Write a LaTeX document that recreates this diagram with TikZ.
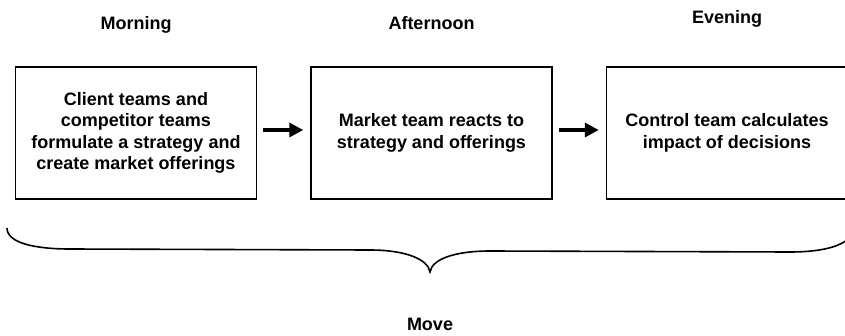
\documentclass[tikz,border=0pt]{standalone}
\usepackage{fontspec}
\setmainfont{Liberation Sans}
\usetikzlibrary{positioning,arrows.meta}

\begin{document}
\begin{tikzpicture}[x=1pt,y=1pt,font={\bfseries\fontsize{18}{21.5}\selectfont},
  phase/.style={draw,line width=1.5pt,minimum width=241pt,minimum height=132pt,inner sep=0,align=center},
  flow/.style={line width=4pt,-{Triangle[length=14pt,width=14pt]}}]
\useasboundingbox (0,0) rectangle (845,335);
% the three parts of a move
\node [phase] (morning) at (136,202) {Client teams and\\competitor teams\\formulate a strategy and\\create market offerings};
\node [phase,right=53pt of morning] (afternoon) {Market team reacts to\\strategy and offerings};
\node [phase,right=53pt of afternoon] (evening) {Control team calculates\\impact of decisions};
\node [above=37pt of morning,anchor=base] (morning label) {Morning};
\node [above=37pt of afternoon,anchor=base] (afternoon label) {Afternoon};
\node [above=43pt of evening,anchor=base] (evening label) {Evening};
\foreach \a/\b in {morning/afternoon,afternoon/evening}
  \draw [flow] ([xshift=6pt,yshift=3pt]\a.east) -- ([xshift=-7pt,yshift=3pt]\b.west);
% brace under all three
\coordinate (tip) at (430,63);
\draw [line width=1.6pt] (7,107) .. controls (7,92) and (35,86) .. (70,86) -- (370,85)
  .. controls (405,85) and (428,76) .. (tip) .. controls (432,76) and (455,84) .. (490,84)
  -- (790,83) .. controls (820,83) and (838,88) .. (847,95);
\node [below=43pt of tip] (move) {Move};
\end{tikzpicture}
\end{document}
